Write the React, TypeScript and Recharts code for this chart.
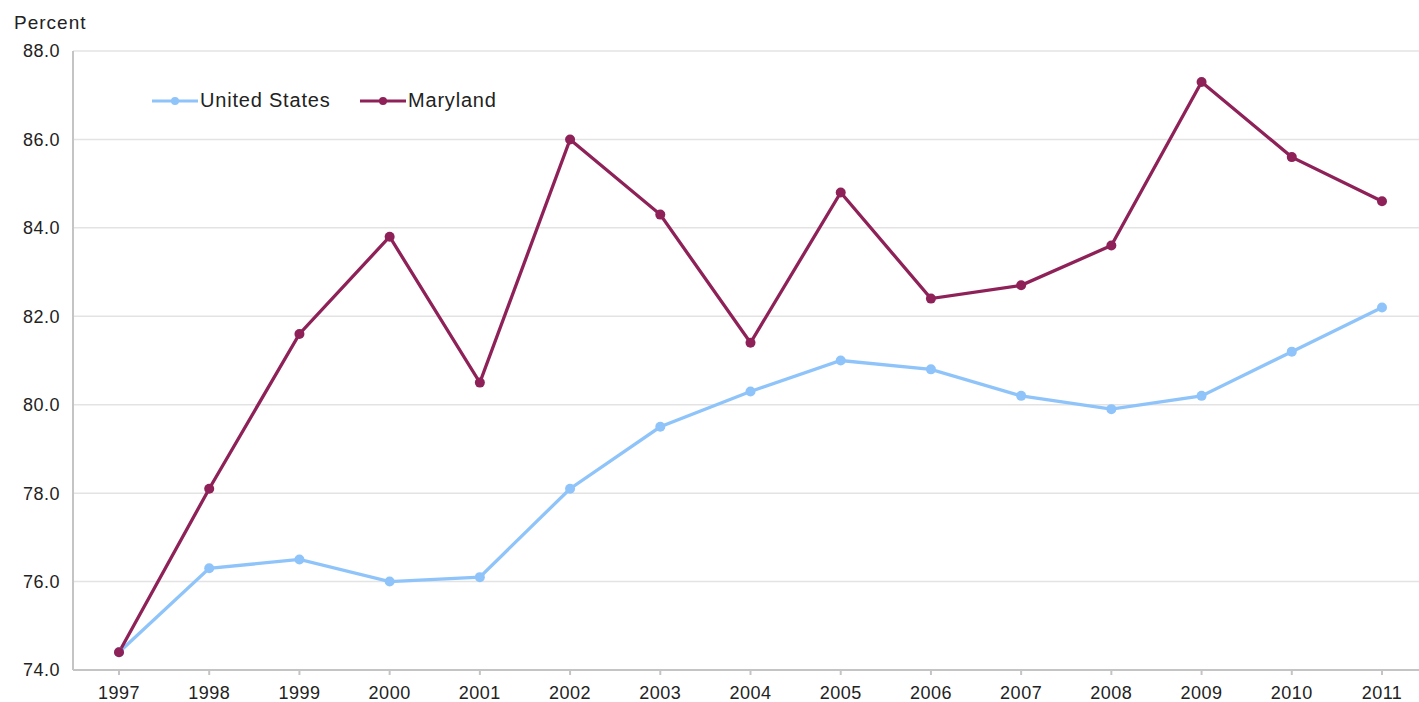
import React from "react";
import { LineChart, Line, XAxis, YAxis, CartesianGrid } from "recharts";

const years = ["1997","1998","1999","2000","2001","2002","2003","2004","2005","2006","2007","2008","2009","2010","2011"];
const unitedStates = [74.4, 76.3, 76.5, 76.0, 76.1, 78.1, 79.5, 80.3, 81.0, 80.8, 80.2, 79.9, 80.2, 81.2, 82.2];
const maryland = [74.4, 78.1, 81.6, 83.8, 80.5, 86.0, 84.3, 81.4, 84.8, 82.4, 82.7, 83.6, 87.3, 85.6, 84.6];
const yTicks = [74, 76, 78, 80, 82, 84, 86, 88];

const US_COLOR = "#8fc4fa";
const MD_COLOR = "#8e2158";

const data = years.map((y, i) => ({ year: y, us: unitedStates[i], md: maryland[i] }));

const font = "'Liberation Sans', Arial, sans-serif";

const legendItems = [
  { label: "United States", color: US_COLOR, width: 208 },
  { label: "Maryland", color: MD_COLOR, width: 150 },
];

function ChartLegend() {
  return (
    <div style={{ position: "absolute", left: 152, top: 89, display: "flex", fontFamily: font, fontSize: 20, letterSpacing: 0.8, color: "#222" }}>
      {legendItems.map((it) => (
        <div key={it.label} style={{ display: "flex", alignItems: "center", width: it.width }}>
          <svg width={46} height={12}>
            <line x1={0} y1={6} x2={46} y2={6} stroke={it.color} strokeWidth={3} />
            <circle cx={23} cy={6} r={4} fill={it.color} />
          </svg>
          <span style={{ marginLeft: 2 }}>{it.label}</span>
        </div>
      ))}
    </div>
  );
}

const tickStyle = { fill: "#222", fontSize: 18, fontFamily: font, letterSpacing: 0.5 };

export default function App() {
  return (
    <div style={{ position: "absolute", left: 0, top: 0, width: 1419, height: 702, overflow: "hidden", background: "#fff" }}>
      <div style={{ position: "absolute", left: 14, top: 12, fontFamily: font, fontSize: 19, letterSpacing: 1, color: "#222" }}>Percent</div>
      <LineChart width={1430} height={702} data={data} margin={{ top: 51, right: 4, bottom: 0, left: 0 }}>
        <CartesianGrid horizontal vertical={false} stroke="#e3e3e3" strokeWidth={1.5} />
        <XAxis
          dataKey="year"
          height={32}
          padding={{ left: 46, right: 44 }}
          tickSize={5}
          tickMargin={11}
          stroke="#c4c4c4"
          strokeWidth={2}
          tick={tickStyle}
          interval={0}
        />
        <YAxis
          width={73}
          domain={[74, 88]}
          ticks={yTicks}
          tickFormatter={(v: number) => v.toFixed(1)}
          tickLine={false}
          tickMargin={7}
          stroke="#c4c4c4"
          strokeWidth={2}
          tick={tickStyle}
        />
        <Line type="linear" dataKey="us" stroke={US_COLOR} strokeWidth={3.3} dot={{ r: 5, fill: US_COLOR, stroke: US_COLOR, strokeWidth: 0 }} isAnimationActive={false} />
        <Line type="linear" dataKey="md" stroke={MD_COLOR} strokeWidth={3.3} dot={{ r: 5, fill: MD_COLOR, stroke: MD_COLOR, strokeWidth: 0 }} isAnimationActive={false} />
      </LineChart>
      <ChartLegend />
    </div>
  );
}
